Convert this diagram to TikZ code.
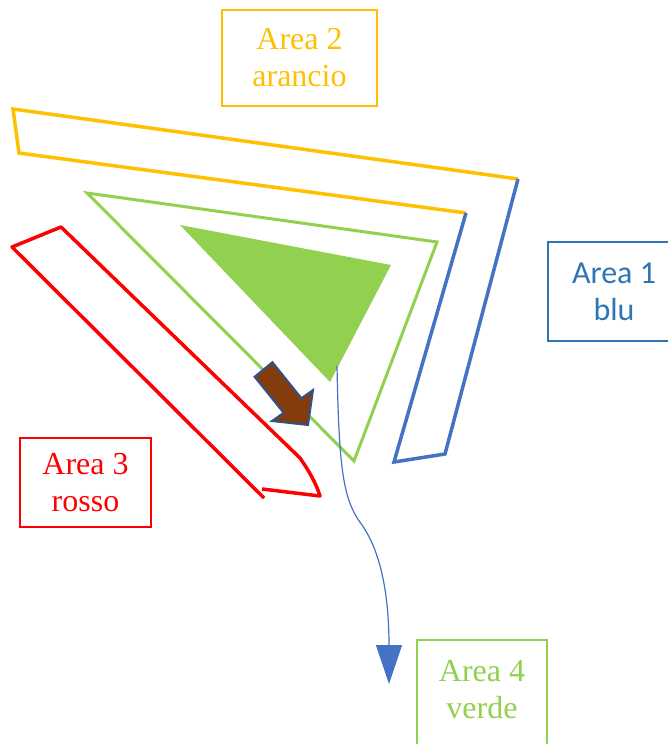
\documentclass[tikz,border=0pt]{standalone}
\usepackage{fontspec}
\setmainfont{Liberation Serif}
\newfontfamily\carlito{Carlito}
\usetikzlibrary{arrows.meta}
\definecolor{cOrange}{HTML}{FFC000}
\definecolor{cBlue}{HTML}{4472C4}
\definecolor{cBlueTxt}{HTML}{2E75B6}
\definecolor{cRed}{HTML}{FF0000}
\definecolor{cGreen}{HTML}{92D050}
\definecolor{cBrown}{HTML}{843C0C}
\definecolor{cEdge}{HTML}{2F528F}
\tikzset{
  areabox/.style={draw=#1, text=#1, line width=2pt, align=center, inner sep=0pt,
    font=\fontsize{32}{37}\selectfont},
  areatext/.style={text=#1, align=center, inner sep=0pt,
    font=\fontsize{32}{37}\selectfont},
  band/.style={draw=#1, line width=3.5pt, line join=miter},
}
\begin{document}
\begin{tikzpicture}[x=1pt,y=-1pt]
\useasboundingbox (0,0) rectangle (668,744);
\clip (0,0) rectangle (668,744);
% orange band (top part)
\draw[band=cOrange] (466,213) -- (19,153) -- (13,109) -- (518,179);
% blue band (right part)
\draw[band=cBlue] (518,179) -- (445,454) -- (394,462) -- (466,213);
% green outline triangle
\draw[draw=cGreen, line width=3pt, line join=miter] (87,193) -- (437,242) -- (354,461) -- cycle;
% green filled triangle
\fill[cGreen] (180,225) -- (391,265) -- (330,382) -- cycle;
% red band
\draw[band=cRed, line join=round] (264,498) -- (12,247) -- (61,227) -- (300,458)
  .. controls (309,471) and (316,483) .. (320,496) -- (262,489);
% brown block arrow
\filldraw[fill=cBrown, draw=cEdge, line width=2pt, line join=miter]
  (254.6,376.8) -- (272.4,362.2) -- (301.4,398.2) -- (313,390) -- (308,425) -- (272,421) -- (283.6,412.8) -- cycle;
% thin blue connector
\coordinate (s) at (337,366);
\coordinate (e) at (389,684);
\draw[cBlue, line width=1.2pt, -{Triangle[width=26pt,length=39pt]}]
  (s) .. controls (339,470) and (343,500) .. (362,525)
  .. controls (385,558) and (389,610) .. (e);
% labels
\node[areabox=cOrange, minimum width=155pt, minimum height=96pt] (a2) at (299.5,58) {Area 2\\arancio};
\node[areabox=cBlueTxt, minimum width=132pt, minimum height=99pt, font=\carlito\fontsize{32}{37}\selectfont] (a1) at (614,291.5) {Area 1\\blu};
\node[areabox=cRed, minimum width=131pt, minimum height=89pt] (a3) at (85.5,482.5) {Area 3\\rosso};
\node[areatext=cGreen] (a4) at (482,690) {Area 4\\verde};
\draw[cGreen, line width=2pt] (417,760) -- (417,640) -- (547,640) -- (547,760);
\end{tikzpicture}
\end{document}
